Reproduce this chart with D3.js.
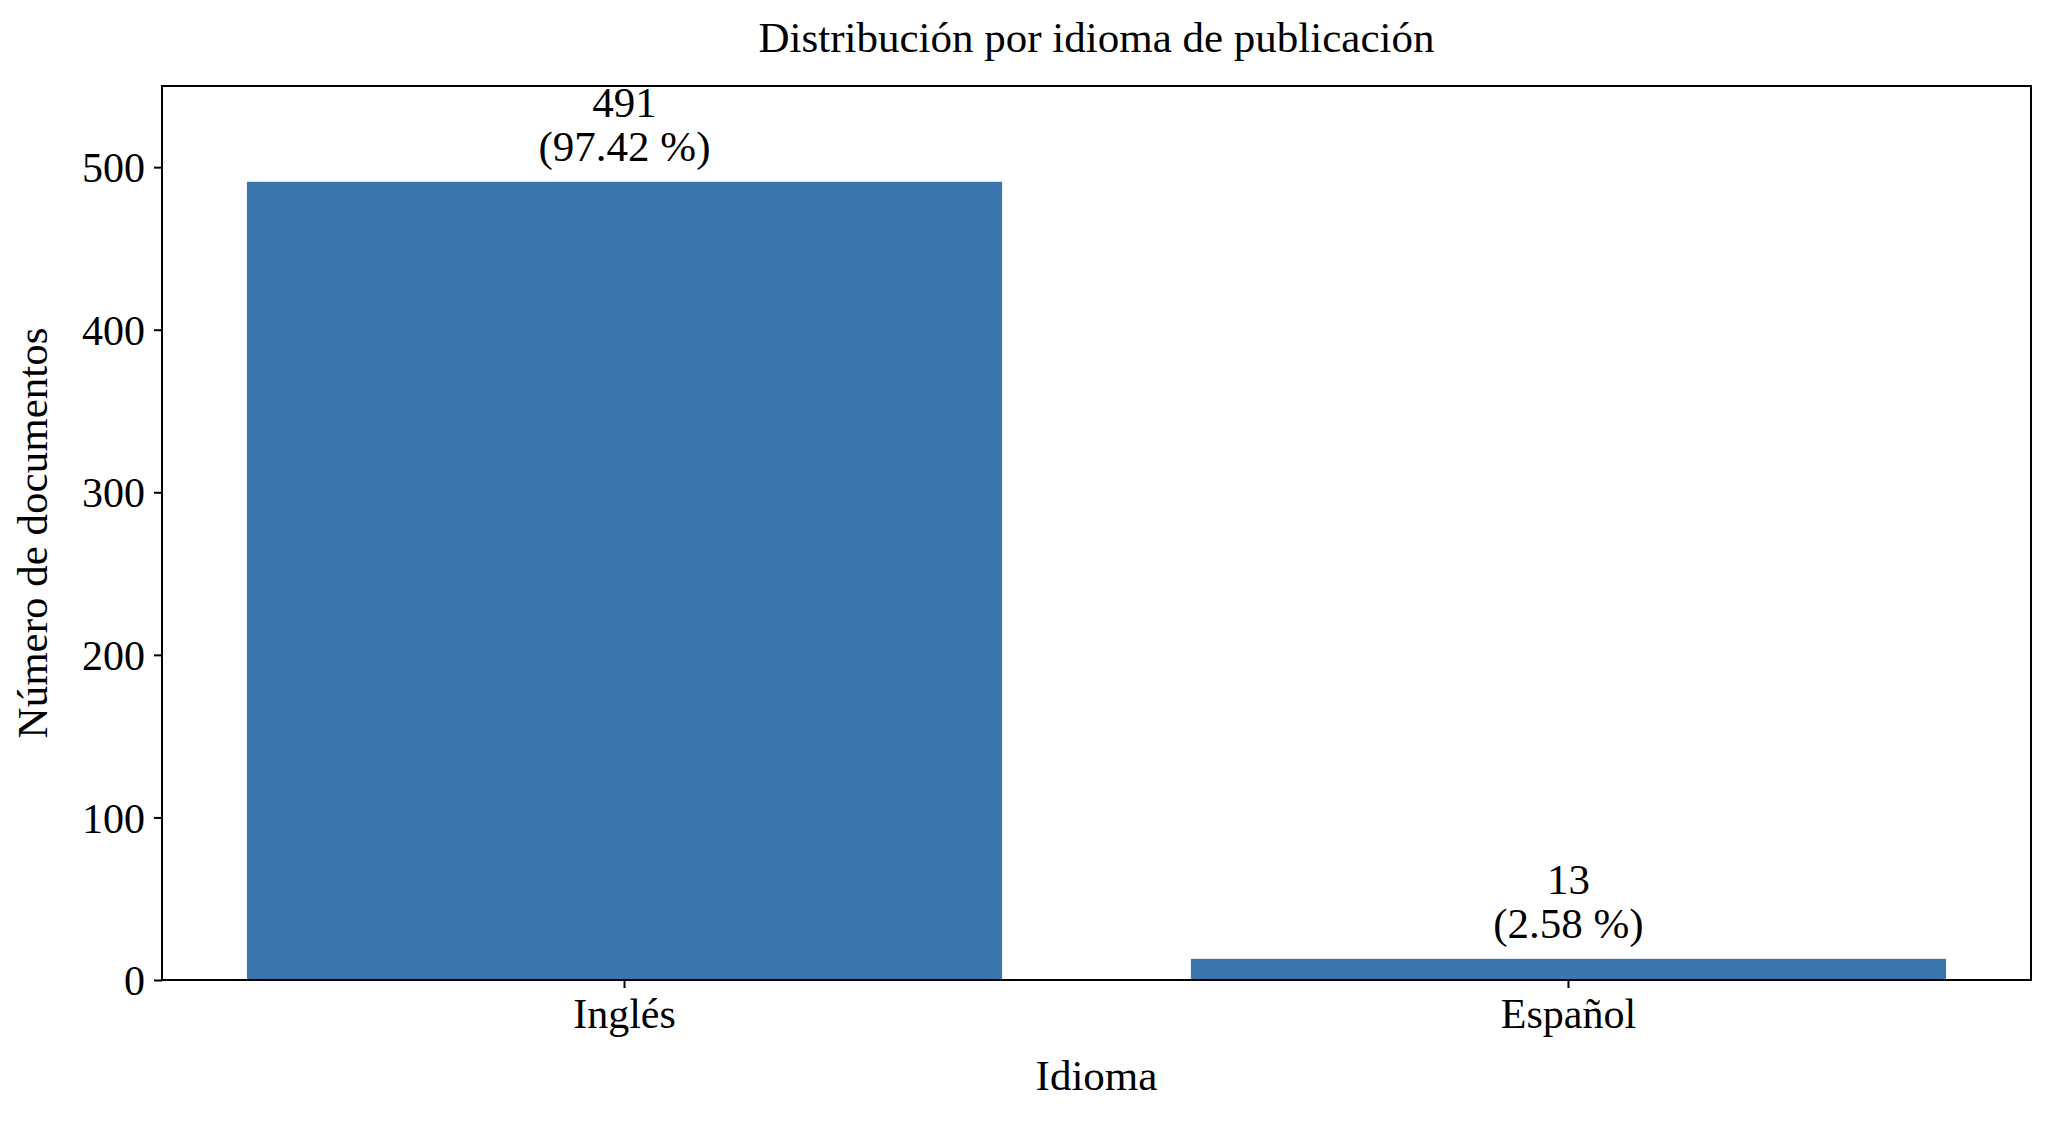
<!DOCTYPE html>
<html lang="es">
  <head>
    <meta charset="utf-8">
    <style>
      body { margin: 0; background: #fff; }
      text { font-family: "Liberation Serif", "DejaVu Serif", serif; fill: #000; }
      .bar { fill: #3a75ad; }
      .axis path, .axis line { stroke: #000; stroke-width: 2; }
    </style>
  </head>
  <body>
    <script src="https://cdn.jsdelivr.net/npm/d3@7"></script>
    <script>
      // data
      var idiomas = ["Inglés", "Español"];
      var documentos = [491, 13];
      var porcentajes = ["97.42 %", "2.58 %"];
      var yTicks = [0, 100, 200, 300, 400, 500];

      var W = 2048, H = 1124;
      var margin = {top: 86, right: 17, bottom: 144, left: 162},
          width = W - margin.left - margin.right,
          height = H - margin.top - margin.bottom;

      var svg = d3.select("body").append("svg")
        .attr("width", W)
        .attr("height", H);

      var g = svg.append("g")
        .attr("transform", "translate(" + margin.left + "," + margin.top + ")");

      // band scale like matplotlib bars of width 0.8 with 5% margins
      var x = d3.scaleBand()
        .domain(idiomas)
        .range([0, width])
        .paddingInner(0.2)
        .paddingOuter(0.09);

      var y = d3.scaleLinear()
        .domain([0, d3.max(documentos) * 1.12])
        .range([height, 0]);

      var data = idiomas.map(function(d, i) {
        return {idioma: d, n: documentos[i], pct: porcentajes[i]};
      });

      // bars
      g.selectAll(".bar")
        .data(data)
        .enter()
        .append("rect")
        .attr("class", "bar")
        .attr("x", function(d) { return x(d.idioma); })
        .attr("width", x.bandwidth())
        .attr("y", function(d) { return y(d.n); })
        .attr("height", function(d) { return height - y(d.n); });

      // labels above bars (two lines, tight spacing as in the original)
      var lab = g.selectAll(".lab")
        .data(data)
        .enter()
        .append("text")
        .attr("class", "lab")
        .attr("text-anchor", "middle")
        .style("font-size", "43px");
      lab.append("tspan")
        .attr("x", function(d) { return x(d.idioma) + x.bandwidth() / 2; })
        .attr("y", function(d) { return y(d.n) - 65; })
        .text(function(d) { return d.n; });
      lab.append("tspan")
        .attr("x", function(d) { return x(d.idioma) + x.bandwidth() / 2; })
        .attr("y", function(d) { return y(d.n) - 21; })
        .text(function(d) { return "(" + d.pct + ")"; });

      // x axis
      var xAxis = g.append("g")
        .attr("class", "axis")
        .attr("transform", "translate(0," + height + ")")
        .call(d3.axisBottom(x).tickSize(8).tickPadding(10).tickSizeOuter(0));
      xAxis.select(".domain").remove();
      xAxis.selectAll("text").style("font-size", "42px");

      // y axis
      var yAxis = g.append("g")
        .attr("class", "axis")
        .call(d3.axisLeft(y).tickValues(yTicks).tickSize(8).tickPadding(9).tickSizeOuter(0));
      yAxis.select(".domain").remove();
      yAxis.selectAll("text").style("font-size", "42px").attr("dy", "0.35em");

      // frame
      g.append("rect")
        .attr("width", width)
        .attr("height", height)
        .attr("fill", "none")
        .attr("stroke", "#000")
        .attr("stroke-width", 2);

      // title
      svg.append("text")
        .attr("x", margin.left + width / 2)
        .attr("y", 52)
        .attr("text-anchor", "middle")
        .style("font-size", "43px")
        .text("Distribución por idioma de publicación");

      // x label
      svg.append("text")
        .attr("x", margin.left + width / 2)
        .attr("y", 1090)
        .attr("text-anchor", "middle")
        .style("font-size", "43px")
        .text("Idioma");

      // y label
      svg.append("text")
        .attr("transform", "translate(47," + (margin.top + height / 2) + ") rotate(-90)")
        .attr("text-anchor", "middle")
        .style("font-size", "43px")
        .text("Número de documentos");
    </script>
  </body>
</html>
